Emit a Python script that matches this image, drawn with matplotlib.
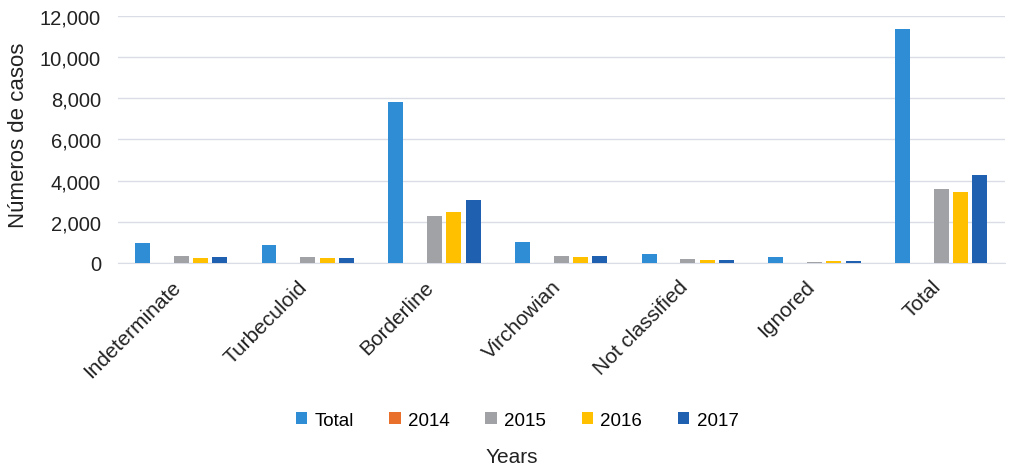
import numpy as np
import matplotlib
matplotlib.use("Agg")
import matplotlib.pyplot as plt

plt.rcParams['font.family'] = ['Liberation Sans', 'DejaVu Sans']

categories = ["Indeterminate", "Turbeculoid", "Borderline", "Virchowian",
              "Not classified", "Ignored", "Total"]
series_names = ["Total", "2014", "2015", "2016", "2017"]
total = [950, 850, 7800, 1000, 450, 280, 11400]
y2014 = [0, 0, 0, 0, 0, 0, 0]
y2015 = [350, 300, 2280, 350, 180, 50, 3600]
y2016 = [250, 220, 2450, 300, 140, 90, 3450]
y2017 = [300, 250, 3050, 320, 140, 100, 4250]
colors = ["#2F8DD6", "#E8702A", "#A0A2A6", "#FFC000", "#2060B0"]

values = [total, y2014, y2015, y2016, y2017]

fig = plt.figure(figsize=(10.24, 4.77), dpi=100)
ax = fig.add_axes([0.115, 0.447, 0.866, 0.517])

x = np.arange(len(categories))
width = 0.118
step = 0.153
for i, (name, vals, c) in enumerate(zip(series_names, values, colors)):
    ax.bar(x + (i - 2) * step, vals, width, color=c, label=name, zorder=3)

ax.set_xlim(-0.5, len(categories) - 0.5)
ax.set_ylim(0, 12000)
ax.set_yticks(range(0, 12001, 2000))
ax.set_yticklabels([f"{v:,}" for v in range(0, 12001, 2000)], fontsize=14.5, color="#222222")
ax.set_xticks(x - 0.08)
ax.set_xticklabels(categories, rotation=45, ha="right", rotation_mode="anchor",
                   fontsize=15, color="#222222")
ax.tick_params(axis="both", length=0)
ax.tick_params(axis="y", pad=12)
ax.tick_params(axis="x", pad=10)
ax.grid(axis="y", color="#DADDE6", linewidth=1, zorder=0)
for s in ["top", "right", "left"]:
    ax.spines[s].set_visible(False)
ax.spines["bottom"].set_color("#DADDE6")

ax.set_ylabel("Números de casos", fontsize=16, color="#222222", labelpad=2)
ax.yaxis.set_label_coords(-0.1, 0.52)
fig.text(0.5, 0.03, "Years", ha="center", fontsize=15, color="#222222")

handles, labels = ax.get_legend_handles_labels()
fig.legend(handles, labels, loc="center", bbox_to_anchor=(0.505, 0.117), ncol=5,
           frameon=False, fontsize=13.5, handlelength=0.6, handleheight=0.6,
           handletextpad=0.4, columnspacing=1.9)

fig.savefig("out.png", dpi=100)
